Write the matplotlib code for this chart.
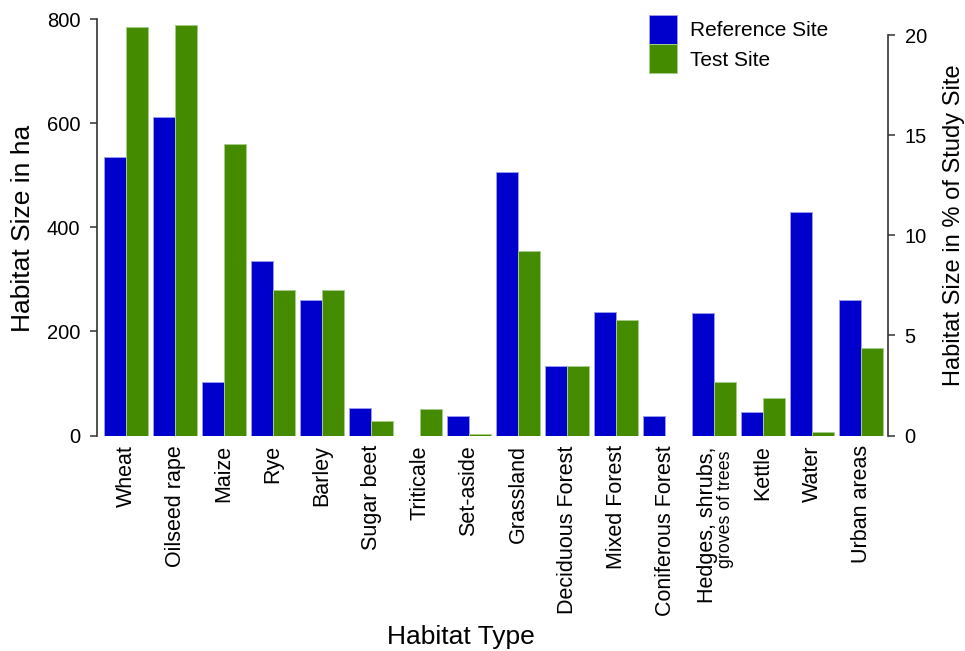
import numpy as np
import matplotlib
matplotlib.use("Agg")
import matplotlib.pyplot as plt
from matplotlib.transforms import blended_transform_factory

plt.rcParams['font.family'] = ['Liberation Sans', 'DejaVu Sans']

habitats = ['Wheat', 'Oilseed rape', 'Maize', 'Rye', 'Barley', 'Sugar beet',
            'Triticale', 'Set-aside', 'Grassland', 'Deciduous Forest',
            'Mixed Forest', 'Coniferous Forest', 'Hedges, shrubs,', 'Kettle',
            'Water', 'Urban areas']
hedges_second_line = 'groves of trees'

# habitat size in ha
reference_site = [535, 612, 103, 336, 261, 53, 0, 38, 507, 134, 238, 37, 236, 45, 430, 261]
test_site = [786, 790, 560, 280, 280, 27, 50, 2, 355, 134, 222, 0, 103, 73, 7, 169]

ha_ticks = [0, 200, 400, 600, 800]
pct_ticks = [0, 5, 10, 15, 20]

blue = '#0000CD'
green = '#458B00'

fig = plt.figure(figsize=(9.65, 6.51), dpi=100)
ax = fig.add_axes([97 / 965, 1 - 435.5 / 651, (888 - 97) / 965, (435.5 - 19.3) / 651])

x = np.arange(len(habitats))
w = 0.443
ax.bar(x - w / 2, reference_site, w, color=blue, edgecolor='#9a9aee', linewidth=0.7,
       label='Reference Site')
ax.bar(x + w / 2, test_site, w, color=green, edgecolor='#a6cc88', linewidth=0.7,
       label='Test Site')

ax.set_xlim(-0.592, 15.55)
ax.set_ylim(0, 800)
ax.set_yticks(ha_ticks)
ax.set_xticks(x)
labels = list(habitats)
labels[12] = ''
ax.set_xticklabels(labels, rotation=90, fontsize=15.5, ha='center', va='top')
ax.tick_params(axis='x', length=0, pad=7)
ax.tick_params(axis='y', length=5, width=1.1, pad=7, labelsize=14.5, color='#333333')

for s in ['top', 'bottom', 'right']:
    ax.spines[s].set_visible(False)
ax.spines['left'].set_color('#333333')
ax.spines['left'].set_linewidth(1.2)

# two-line label for the hedges group
trans = blended_transform_factory(ax.transData, ax.transAxes)
ax.text(11.86, -0.027, habitats[12], rotation=90, ha='center', va='top',
        fontsize=15.5, transform=trans)
ax.text(12.24, -0.037, hedges_second_line, rotation=90, ha='center', va='top',
        fontsize=12.8, transform=trans)

ax2 = ax.twinx()
ax2.set_ylim(0, 20.8)
ax2.set_yticks(pct_ticks)
ax2.tick_params(axis='y', length=5, width=1.1, pad=7, labelsize=14.5, color='#333333')
for s in ['top', 'bottom', 'left']:
    ax2.spines[s].set_visible(False)
ax2.spines['right'].set_bounds(0, 20)
ax2.spines['right'].set_color('#333333')
ax2.spines['right'].set_linewidth(1.2)

fig.text(23 / 965, 1 - 228 / 651, 'Habitat Size in ha', rotation=90,
         ha='center', va='center', fontsize=19)
fig.text(954 / 965, 1 - 225 / 651, 'Habitat Size in % of Study Site', rotation=90,
         ha='center', va='center', fontsize=17)
fig.text(461 / 965, 1 - 637 / 651, 'Habitat Type', ha='center', va='center', fontsize=19)

ax.legend(loc='upper left', bbox_to_anchor=(649 / 965, 1 - 15 / 651),
          bbox_transform=fig.transFigure, frameon=False, fontsize=15,
          handlelength=1.35, handleheight=1.78, labelspacing=0.0,
          handletextpad=0.6, borderpad=0, borderaxespad=0)

fig.savefig('out.png', dpi=100)
